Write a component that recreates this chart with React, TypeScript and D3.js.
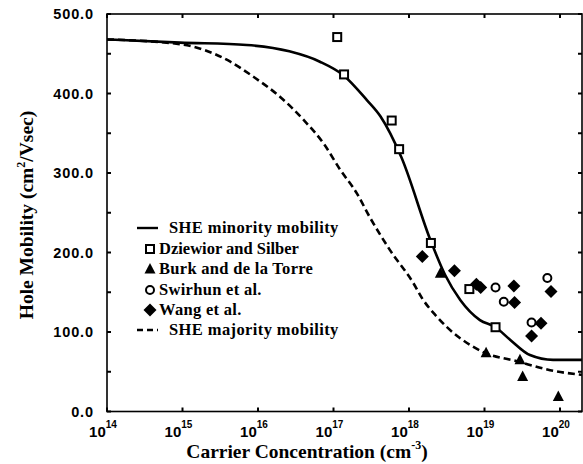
import React from "react";
import * as d3 from "d3";

// SHE model curves (concentration cm^-3, mobility cm2/Vs)
const minorityN = [1e14, 9.3e14, 7.1e15, 2.6e16, 6.6e16, 1.35e17, 2.75e17, 4.2e17, 7.9e17, 1.95e18, 3.0e18, 4.8e18, 8.7e18, 1.4e19, 2.2e19, 4.0e19, 8.1e19, 1.95e20];
const minorityMu = [468, 464, 461, 453, 440, 423, 392, 371, 320, 214, 172, 140, 115, 106, 90, 71, 65, 65];

const majorityN = [1e14, 9.3e14, 4.3e15, 8.7e15, 1.95e16, 4.0e16, 7.4e16, 1.23e17, 2.05e17, 3.0e17, 5.6e17, 1.15e18, 1.5e18, 2.3e18, 9.5e18, 2.75e19, 7.4e19, 1.95e20];
const majorityMu = [468, 462, 440, 421, 396, 367, 337, 304, 274, 245, 203, 161, 142, 120, 75, 63, 52, 46];

// measurements
const dziewiorN = [1.12e17, 1.38e17, 5.9e17, 7.4e17, 1.95e18, 6.3e18, 1.4e19];
const dziewiorMu = [471, 424, 366, 330, 212, 154, 106];

const burkN = [2.6e18, 1.05e19, 2.95e19, 3.2e19, 9.5e19];
const burkMu = [174, 74, 65, 44, 19];

const swirhunN = [1.4e19, 1.8e19, 4.2e19, 6.8e19];
const swirhunMu = [156, 138, 112, 168];

const wangN = [1.5e18, 4.0e18, 7.8e18, 8.9e18, 2.45e19, 2.5e19, 5.6e19, 4.2e19, 7.6e19];
const wangMu = [195, 177, 160, 156, 158, 137, 111, 95, 151];

const decades = [14, 15, 16, 17, 18, 19, 20];
const yTicks = [0, 100, 200, 300, 400, 500];
const legendLabels = [
  "SHE minority mobility",
  "Dziewior and Silber",
  "Burk and de la Torre",
  "Swirhun et al.",
  "Wang et al.",
  "SHE majority mobility",
];

const W = 583;
const H = 464;
const left = 107;
const right = 582;
const top = 14;
const bottom = 411.5;

const x = d3.scaleLog().domain([1e14, 1e21]).range([left, left + 7 * 75.5]);
const y = d3.scaleLinear().domain([0, 500]).range([bottom, top]);

const sans = "'Liberation Sans', Arial, sans-serif";
const serif = "'Liberation Serif', 'Times New Roman', serif";

function pts(ns: number[], mus: number[]): [number, number][] {
  return ns.map((n, i) => [n, mus[i]]);
}

const line = d3
  .line<[number, number]>()
  .x((d) => x(d[0]))
  .y((d) => y(d[1]))
  .curve(d3.curveMonotoneX);

function Square({ cx, cy }: { cx: number; cy: number }) {
  return <rect x={cx - 4} y={cy - 4} width={8} height={8} fill="white" stroke="black" strokeWidth={2} />;
}
function Tri({ cx, cy }: { cx: number; cy: number }) {
  return <path d={`M${cx},${cy - 6} L${cx + 5.5},${cy + 4.5} L${cx - 5.5},${cy + 4.5} Z`} fill="black" />;
}
function Circ({ cx, cy }: { cx: number; cy: number }) {
  return <circle cx={cx} cy={cy} r={4} fill="white" stroke="black" strokeWidth={2} />;
}
function Diamond({ cx, cy }: { cx: number; cy: number }) {
  return <path d={`M${cx},${cy - 6.5} L${cx + 6.5},${cy} L${cx},${cy + 6.5} L${cx - 6.5},${cy} Z`} fill="black" />;
}

export default function App() {
  const minor = pts(minorityN, minorityMu);
  const major = pts(majorityN, majorityMu);
  const minorY = d3.range(0, 501, 50);
  const legendY = [228, 249, 269, 290, 310, 330];

  return (
    <div style={{ position: "absolute", left: 0, top: 0 }}>
      <svg width={W} height={H} style={{ display: "block", background: "white" }}>
        <defs>
          <clipPath id="plot">
            <rect x={left} y={top - 10} width={right - left} height={bottom - top + 10} />
          </clipPath>
        </defs>

        {/* frame */}
        <rect x={left} y={top} width={right - left} height={bottom - top} fill="none" stroke="black" strokeWidth={1.6} />

        {/* y ticks, both sides */}
        {minorY.map((v) => (
          <g key={v}>
            <line x1={left} x2={left + 4} y1={y(v)} y2={y(v)} stroke="black" strokeWidth={2} />
            <line x1={right} x2={right - 4} y1={y(v)} y2={y(v)} stroke="black" strokeWidth={2} />
          </g>
        ))}
        {yTicks.map((v) => (
          <text key={v} x={left - 13} y={y(v) + 5} textAnchor="end" fontFamily={sans} fontWeight="bold" fontSize={14.5} letterSpacing={0.9}>
            {v.toFixed(1)}
          </text>
        ))}

        {/* x ticks, top and bottom */}
        {decades.map((e) => (
          <g key={e}>
            <line x1={x(10 ** e)} x2={x(10 ** e)} y1={bottom} y2={bottom - 4} stroke="black" strokeWidth={2} />
            <line x1={x(10 ** e)} x2={x(10 ** e)} y1={top} y2={top + 4} stroke="black" strokeWidth={2} />
            <text x={x(10 ** e) - 4} y={437} textAnchor="middle" fontFamily={sans} fontWeight="bold" fontSize={15}>
              10
              <tspan dy={-9} fontSize={10}>{e}</tspan>
            </text>
          </g>
        ))}

        {/* curves */}
        <g clipPath="url(#plot)">
          <path d={line(minor) ?? ""} fill="none" stroke="black" strokeWidth={2.6} />
          <path d={line(major) ?? ""} fill="none" stroke="black" strokeWidth={2.6} strokeDasharray="7,4" />
        </g>

        {/* data */}
        {dziewiorN.map((n, i) => <Square key={"s" + i} cx={x(n)} cy={y(dziewiorMu[i])} />)}
        {burkN.map((n, i) => <Tri key={"t" + i} cx={x(n)} cy={y(burkMu[i])} />)}
        {swirhunN.map((n, i) => <Circ key={"c" + i} cx={x(n)} cy={y(swirhunMu[i])} />)}
        {wangN.map((n, i) => <Diamond key={"d" + i} cx={x(n)} cy={y(wangMu[i])} />)}

        {/* legend */}
        <g fontFamily={serif} fontWeight="bold" fontSize={16.5}>
          <line x1={137} x2={158} y1={legendY[0]} y2={legendY[0]} stroke="black" strokeWidth={2.4} />
          <text x={169} y={legendY[0] + 5} letterSpacing={0.4}>{legendLabels[0]}</text>
          <Square cx={150} cy={legendY[1]} />
          <text x={159} y={legendY[1] + 5}>{legendLabels[1]}</text>
          <Tri cx={150} cy={legendY[2]} />
          <text x={159} y={legendY[2] + 5} letterSpacing={0.3}>{legendLabels[2]}</text>
          <Circ cx={150} cy={legendY[3]} />
          <text x={159} y={legendY[3] + 5} letterSpacing={0.3}>{legendLabels[3]}</text>
          <Diamond cx={150} cy={legendY[4]} />
          <text x={159} y={legendY[4] + 5} letterSpacing={0.3}>{legendLabels[4]}</text>
          <line x1={137} x2={158} y1={legendY[5]} y2={legendY[5]} stroke="black" strokeWidth={2.4} strokeDasharray="6,4" />
          <text x={169} y={legendY[5] + 5} letterSpacing={0.4}>{legendLabels[5]}</text>
        </g>

        {/* axis titles */}
        <text x={307} y={458} textAnchor="middle" fontFamily={serif} fontWeight="bold" fontSize={19.5}>
          Carrier Concentration (cm
          <tspan dy={-9} fontSize={12}>-3</tspan>
          <tspan dy={9}>)</tspan>
        </text>
        <text transform="translate(33,215) rotate(-90)" textAnchor="middle" fontFamily={serif} fontWeight="bold" fontSize={19.5}>
          Hole Mobility (cm
          <tspan dy={-8} fontSize={12}>2</tspan>
          <tspan dy={8}>/Vsec)</tspan>
        </text>
      </svg>
    </div>
  );
}
